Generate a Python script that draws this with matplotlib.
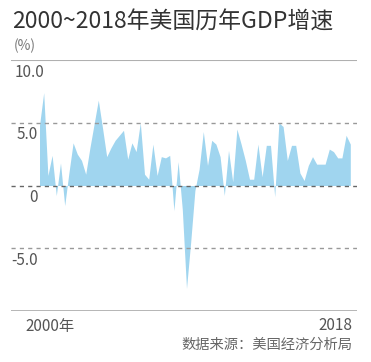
"""
2000~2018年美国历年GDP增速 — 季度折算年率面积图
"""

import numpy as np
import matplotlib
matplotlib.use('Agg')
import matplotlib.pyplot as plt

plt.rcParams['font.family'] = ['Noto Sans CJK SC', 'DejaVu Sans']

# ── 数据 ──────────────────────────────────────────────────────────────────────
# 2000Q1 ~ 2018Q3, 每季度一个点 (%)
anos = list(range(2000, 2019))
crescimento = [
    4.8, 7.4, 0.8, 2.4,     # 2000
    -0.8, 1.8, -1.6, 1.0,   # 2001
    3.4, 2.5, 2.0, 0.9,     # 2002
    3.0, 4.9, 6.8, 4.6,     # 2003
    2.3, 3.0, 3.6, 4.0,     # 2004
    4.4, 2.1, 3.4, 2.7,     # 2005
    5.0, 0.9, 0.5, 3.3,     # 2006
    0.8, 2.3, 2.2, 2.4,     # 2007
    -2.0, 1.9, -1.9, -8.2,  # 2008
    -4.5, -0.4, 1.3, 4.3,   # 2009
    1.6, 3.6, 3.3, 2.3,     # 2010
    -0.8, 2.8, 0.3, 4.5,    # 2011
    3.3, 2.0, 0.5, 0.5,     # 2012
    3.3, 0.7, 3.2, 3.2,     # 2013
    -0.9, 5.0, 4.7, 2.0,    # 2014
    3.2, 3.2, 1.0, 0.4,     # 2015
    1.6, 2.3, 1.7, 1.7,     # 2016
    1.7, 2.9, 2.7, 2.2,     # 2017
    2.2, 4.0, 3.3,          # 2018
]
grade_y = [5.0, 0.0, -5.0]
rotulos_y = ['10.0', '5.0', '0', '-5.0']
valores_rotulos = [10, 5, 0, -5]
fonte = '数据来源：美国经济分析局'

# ── Figura ────────────────────────────────────────────────────────────────────
fig = plt.figure(figsize=(3.71, 3.62), dpi=100)
ax = fig.add_axes([11 / 371, 51 / 362, 346 / 371, 251 / 362])

x = np.arange(len(crescimento))
ax.fill_between(x, 0, crescimento, color='#a0d5ef', linewidth=0, zorder=1)

px = 4.2  # pixels por trimestre
x0 = -28.5 / px
ax.set_xlim(x0, len(crescimento) - 1 + 6.7 / px)
ax.set_ylim(-10, 10)
ax.axis('off')

for v in grade_y:
    ax.axhline(v, color='#666666' if v == 0 else '#999999', lw=1.0,
               dashes=(3, 3), zorder=2)
ax.axhline(10, color='#b0b0b0', lw=1.5, zorder=2)
ax.axhline(-10, color='#a0a0a0', lw=1.8, zorder=2)

# rótulos do eixo y (abaixo de cada linha)
for txt, v in zip(rotulos_y, valores_rotulos):
    if txt == '10.0':
        ax.text(x0 + 4 / px, v - 1.0, txt, ha='left', va='center',
                fontsize=11, color='#555555')
    else:
        ax.text(x0 + 27 / px, v - 0.97, txt, ha='right', va='center',
                fontsize=11, color='#555555')

# ── Textos ────────────────────────────────────────────────────────────────────
fig.text(12 / 371, 1 - 22 / 362, '2000~2018年美国历年GDP增速', ha='left',
         va='center', fontsize=16.5, color='#333333')
fig.text(14 / 371, 1 - 46 / 362, '(%)', ha='left', va='center',
         fontsize=10, color='#777777')
fig.text(25 / 371, 1 - 326 / 362, f'{anos[0]}年', ha='left', va='center',
         fontsize=11, color='#555555')
fig.text(352 / 371, 1 - 326 / 362, f'{anos[-1]}', ha='right', va='center',
         fontsize=11, color='#555555')
fig.text(352 / 371, 1 - 345 / 362, fonte, ha='right', va='center',
         fontsize=10.3, color='#666666')

fig.savefig('out.png', dpi=100)
